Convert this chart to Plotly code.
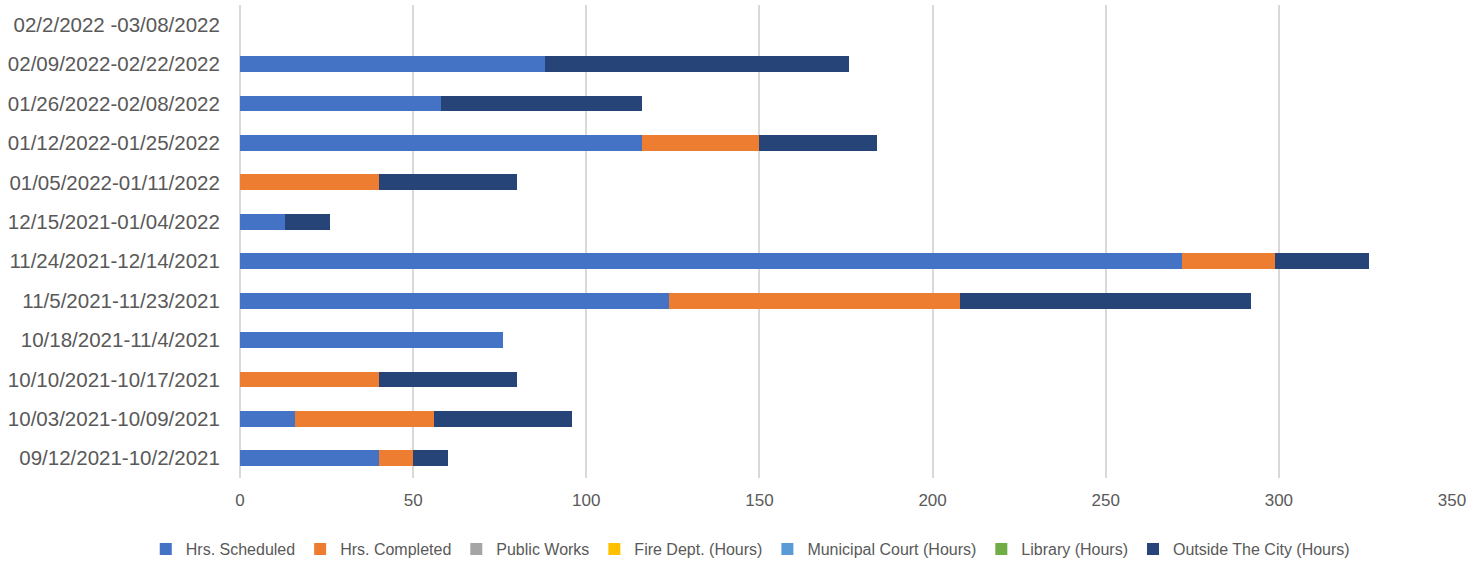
import plotly.graph_objects as go

categories = [
    "09/12/2021-10/2/2021",
    "10/03/2021-10/09/2021",
    "10/10/2021-10/17/2021",
    "10/18/2021-11/4/2021",
    "11/5/2021-11/23/2021",
    "11/24/2021-12/14/2021",
    "12/15/2021-01/04/2022",
    "01/05/2022-01/11/2022",
    "01/12/2022-01/25/2022",
    "01/26/2022-02/08/2022",
    "02/09/2022-02/22/2022",
    "02/2/2022 -03/08/2022",
]

hrs_scheduled = [40, 16, 0, 76, 124, 272, 13, 0, 116, 58, 88, 0]
hrs_completed = [10, 40, 40, 0, 84, 27, 0, 40, 34, 0, 0, 0]
public_works = [0] * 12
fire_dept = [0] * 12
municipal_court = [0] * 12
library = [0] * 12
outside_city = [10, 40, 40, 0, 84, 27, 13, 40, 34, 58, 88, 0]

series = [
    ("Hrs. Scheduled", hrs_scheduled, "#4472C4"),
    ("Hrs. Completed", hrs_completed, "#ED7D31"),
    ("Public Works", public_works, "#A5A5A5"),
    ("Fire Dept. (Hours)", fire_dept, "#FFC000"),
    ("Municipal Court (Hours)", municipal_court, "#5B9BD5"),
    ("Library (Hours)", library, "#70AD47"),
    ("Outside The City (Hours)", outside_city, "#264478"),
]

fig = go.Figure()
for name, vals, color in series:
    fig.add_trace(go.Bar(
        y=categories, x=vals, name=name, orientation="h",
        marker=dict(color=color, line=dict(width=0)),
    ))

font_family = "Liberation Sans, Arial, sans-serif"
fig.update_layout(
    width=1476, height=562,
    barmode="stack", bargap=0.6,
    plot_bgcolor="white", paper_bgcolor="white",
    margin=dict(l=240, r=24, t=5, b=84),
    font=dict(family=font_family, color="#595959", size=16),
    xaxis=dict(range=[0, 350], dtick=50, showgrid=True, gridcolor="#D9D9D9",
               gridwidth=1.5, zeroline=True, zerolinecolor="#D9D9D9",
               zerolinewidth=1.5, tickfont=dict(size=17), ticks="outside",
               ticklen=7, tickcolor="rgba(0,0,0,0)", automargin=False),
    yaxis=dict(type="category", categoryorder="array", categoryarray=categories,
               tickfont=dict(size=20.5), showgrid=False, ticks="outside",
               ticklen=15, tickcolor="rgba(0,0,0,0)", automargin=False),
    legend=dict(orientation="h", x=0.421, xanchor="center",
                yref="container", y=0.023, yanchor="middle",
                font=dict(size=16), traceorder="normal"),
)

fig.write_html("out.html",
               config={"displayModeBar": False},
               post_script="document.body.style.margin='0px';")
